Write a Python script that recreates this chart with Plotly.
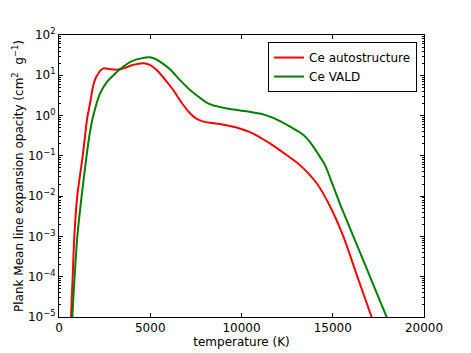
import plotly.graph_objects as go

# Ce autostructure (temperature K, log10 opacity)
red_T = [500, 660, 750, 840, 1000, 1300, 1550, 1700, 1880, 2065, 2430, 2800, 3160, 3600, 4000, 4620, 5000, 5350,
         5800, 6260, 6700, 7180, 7500, 7910, 8820, 9370, 9900, 10470, 11000, 11560, 12470, 13200, 14120, 14850,
         15580, 16310, 17130, 17600]
red_log = [-7.0, -5.0, -4.0, -3.0, -2.0, -1.0, -0.05, 0.3, 0.75, 0.98, 1.17, 1.15, 1.14, 1.18, 1.25, 1.30, 1.25, 1.13,
           0.9, 0.635, 0.33, 0.057, -0.07, -0.15, -0.21, -0.26, -0.32, -0.41, -0.54, -0.69, -0.98, -1.23, -1.68,
           -2.25, -3.0, -3.95, -5.0, -5.6]

# Ce VALD
green_T = [550, 730, 855, 1005, 1240, 1510, 1700, 1880, 2250, 2600, 2980, 3340, 4000, 4500, 4990, 5250, 5530, 6080,
           6630, 7180, 7730, 8090, 8400, 8820, 9370, 10300, 11190, 11800, 12660, 13390, 13750, 14120, 14575, 15000,
           15490, 16680, 17950, 18500]
green_log = [-7.0, -5.0, -4.0, -3.0, -2.0, -1.0, -0.4, 0.0, 0.55, 0.82, 1.0, 1.15, 1.35, 1.42, 1.447, 1.41, 1.34,
             1.15, 0.88, 0.635, 0.44, 0.32, 0.26, 0.215, 0.164, 0.105, 0.03, -0.07, -0.275, -0.48, -0.65, -0.9,
             -1.23, -1.72, -2.3, -3.6, -5.0, -5.6]

x_ticks = [0, 5000, 10000, 15000, 20000]
y_exps = [-5, -4, -3, -2, -1, 0, 1, 2]

red_v = [10 ** v for v in red_log]
green_v = [10 ** v for v in green_log]
y_tickvals = [10 ** e for e in y_exps]
y_ticktext = ["10<sup>%s</sup>" % (str(e).replace("-", "−")) for e in y_exps]
y_minor = [m * 10 ** e for e in y_exps[:-1] for m in range(2, 10)]

font = dict(family="DejaVu Sans", size=12, color="black")

fig = go.Figure()
fig.add_trace(go.Scatter(x=red_T, y=red_v, mode="lines", name="Ce autostructure",
                         line=dict(color="#ff0000", width=2, shape="spline", smoothing=0.8)))
fig.add_trace(go.Scatter(x=green_T, y=green_v, mode="lines", name="Ce VALD",
                         line=dict(color="#008000", width=2, shape="spline", smoothing=0.8)))

fig.update_layout(
    width=471, height=353,
    margin=dict(l=59, r=47, t=35, b=36, autoexpand=False),
    paper_bgcolor="white", plot_bgcolor="white",
    font=font,
    showlegend=True,
    legend=dict(x=0.981, y=0.975, xanchor="right", yanchor="top",
                bordercolor="black", borderwidth=1, bgcolor="white",
                font=dict(family="DejaVu Sans", size=12), tracegroupgap=0,
                itemwidth=30),
    xaxis=dict(range=[0, 20000], tickvals=x_ticks, ticktext=[str(v) for v in x_ticks],
               ticks="inside", ticklen=4, tickcolor="black", showline=True, linecolor="black",
               linewidth=1, mirror="ticks", showgrid=False, zeroline=False, automargin=False,
               title=dict(text="temperature (K)", standoff=0, font=dict(size=12))),
    yaxis=dict(type="log", range=[-5, 2], tickvals=y_tickvals, ticktext=y_ticktext,
               ticks="inside", ticklen=4, tickcolor="black", showline=True, linecolor="black",
               linewidth=1, mirror="ticks", showgrid=False, zeroline=False, automargin=False,
               minor=dict(ticks="inside", ticklen=2, tickcolor="black", showgrid=False,
                          tickvals=y_minor),
               title=dict(text="Plank Mean line expansion opacity (cm<sup>2</sup>  g<sup>−1</sup>)",
                          standoff=1, font=dict(size=12))),
)

fig.write_html("out.html", config={"displayModeBar": False},
               post_script="document.body.style.margin='0';")
